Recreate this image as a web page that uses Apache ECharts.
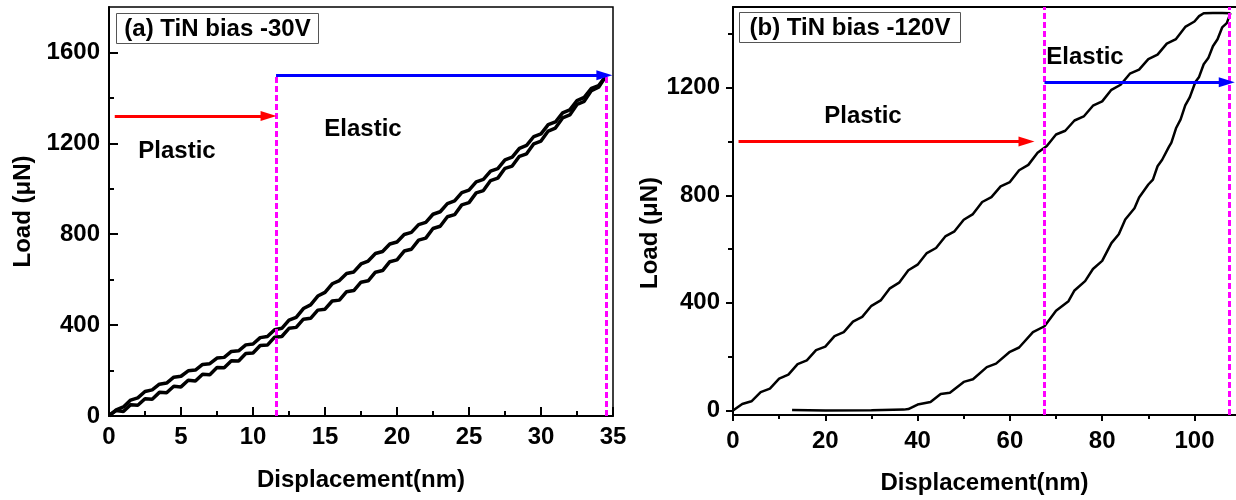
<!DOCTYPE html>
<html><head><meta charset="utf-8">
<script src="https://cdn.jsdelivr.net/npm/echarts@6/dist/echarts.min.js"></script>
<style>html,body{margin:0;padding:0;background:#fff}#c{width:1236px;height:500px}</style>
</head><body><div id="c"></div>
<script>
// ---------- data ----------
const leftLoading = [[0,0],[0.5,27],[1,40],[1.5,70],[2,80],[2.5,108],[3,115],[3.5,140],[4,145],[4.5,171],[5,175],[5.5,199],[6,202],[6.5,227],[7,230],[7.5,255],[8,258],[8.5,284],[9,287],[9.5,313],[10,317],[10.5,345],[11,350],[11.5,380],[12,386],[12.5,422],[13,434],[13.5,473],[14,489],[14.5,528],[15,544],[15.5,582],[16,596],[16.5,627],[17,634],[17.5,669],[18,682],[18.5,715],[19,724],[19.5,757],[20,766],[20.5,799],[21,808],[21.5,842],[22,852],[22.5,888],[23,899],[23.5,935],[24,947],[24.5,983],[25,994],[25.5,1030],[26,1041],[26.5,1078],[27,1089],[27.5,1127],[28,1139],[28.5,1178],[29,1191],[29.5,1230],[30,1242],[30.5,1282],[31,1294],[31.5,1334],[32,1347],[32.5,1388],[33,1402],[33.5,1442],[34,1454],[34.5,1495]];
const leftUnloading = [[34.5,1495],[34,1447],[33.5,1432],[33,1385],[32.5,1371],[32,1325],[31.5,1312],[31,1267],[30.5,1254],[30,1210],[29.5,1198],[29,1154],[28.5,1143],[28,1100],[27.5,1090],[27,1047],[26.5,1036],[26,992],[25.5,982],[25,939],[24.5,929],[24,886],[23.5,877],[23,835],[22.5,825],[22,783],[21.5,774],[21,734],[20.5,726],[20,687],[19.5,679],[19,640],[18.5,633],[18,595],[17.5,589],[17,552],[16.5,547],[16,510],[15.5,506],[15,470],[14.5,466],[14,430],[13.5,426],[13,390],[12.5,386],[12,350],[11.5,347],[11,312],[10.5,310],[10,277],[9.5,275],[9,242],[8.5,243],[8,212],[7.5,213],[7,182],[6.5,184],[6,154],[5.5,157],[5,128],[4.5,131],[4,102],[3.5,104],[3,74],[2.5,76],[2,47],[1.5,50],[1,20],[0.5,24],[0,3]];
const rightLoading = [[0,0],[2,24],[4,34],[6,68],[8,81],[10,118],[12,133],[14,172],[16,186],[18,224],[20,237],[22,276],[24,291],[26,330],[28,348],[30,389],[32,409],[34,454],[36,475],[38,521],[40,542],[42,585],[44,604],[46,647],[48,666],[50,709],[52,730],[54,775],[56,793],[58,833],[60,849],[62,893],[64,913],[66,958],[68,983],[70,1026],[72,1040],[74,1078],[76,1093],[78,1133],[80,1149],[82,1192],[84,1211],[86,1252],[88,1267],[90,1306],[92,1323],[94,1364],[96,1381],[98,1426],[100,1446],[101,1466],[102,1477],[104,1478],[106,1478],[107.8,1477]];
const rightUnloading = [[107.8,1477],[107,1440],[106,1424],[105,1380],[104,1354],[103,1310],[102,1287],[101,1240],[100.2,1221],[99,1165],[98,1134],[97,1082],[96,1049],[95,996],[94.4,978],[93,932],[92,908],[91,858],[90,840],[88,792],[87,752],[85,710],[83.6,655],[82,622],[80,556],[78,526],[76.3,481],[74,446],[72.7,406],[70,371],[67.5,313],[65,291],[62,234],[60,218],[57,174],[55,161],[52,116],[50,106],[47,66],[45,61],[42.8,31],[40,22],[38,5],[37,3],[30,1],[20,0],[12.8,2]];

const leftXTicks = [0,5,10,15,20,25,30,35];
const leftXMinor = [2.5,7.5,12.5,17.5,22.5,27.5,32.5];
const leftYTicks = [0,400,800,1200,1600];
const leftYMinor = [200,600,1000,1400];
const rightXTicks = [0,20,40,60,80,100];
const rightXMinor = [10,30,50,70,90];
const rightYTicks = [0,400,800,1200];
const rightYMinor = [200,600,1000,1400];

const leftPlasticArrow = [[0.4,1320],[11.08,1320]];
const leftElasticArrow = [[11.6,1500],[34.4,1500]];
const leftDividers = [11.6, 34.5];
const leftDividerRange = [0,1500];
const rightPlasticArrow = [[1.2,1000],[63.6,1000]];
const rightElasticArrow = [[67.5,1220],[107.0,1220]];
const rightDividers = [67.5, 107.5];
const rightDividerRange = [-17,1500];

const titles = ['(a) TiN bias -30V', '(b) TiN bias -120V'];
const xName = 'Displacement(nm)';
const yName = 'Load (μN)';

// ---------- options ----------
const FONT = '"Liberation Sans", Arial, sans-serif';
const TXT = {fontFamily: FONT, fontWeight: 'bold', fontSize: 24, color: '#000'};
const plain = v => String(v);

function xAxes(gridIndex, min, max, major, minor, inside, majLen, minLen, nameGap, margin) {
  return [
    {type:'value', gridIndex, min, max, position:'bottom',
     name:xName, nameLocation:'middle', nameGap, nameTextStyle:TXT,
     axisLine:{show:true, onZero:false, lineStyle:{color:'#000', width:2}},
     axisTick:{show:true, inside, length:majLen, customValues:major, lineStyle:{color:'#000', width:2}},
     axisLabel:Object.assign({show:true, customValues:major, margin, formatter:plain}, TXT),
     splitLine:{show:false}},
    {type:'value', gridIndex, min, max, position:'bottom',
     axisLine:{show:false, onZero:false}, axisLabel:{show:false}, splitLine:{show:false},
     axisTick:{show:true, inside, length:minLen, customValues:minor, lineStyle:{color:'#000', width:2}}}
  ];
}
function yAxes(gridIndex, min, max, major, minor, inside, majLen, minLen, nameGap, margin, namePad) {
  return [
    {type:'value', gridIndex, min, max, position:'left',
     name:yName, nameLocation:'middle', nameGap,
     nameTextStyle:Object.assign({padding:namePad}, TXT),
     axisLine:{show:true, onZero:false, lineStyle:{color:'#000', width:2}},
     axisTick:{show:true, inside, length:majLen, customValues:major, lineStyle:{color:'#000', width:2}},
     axisLabel:Object.assign({show:true, customValues:major, margin, formatter:plain}, TXT),
     splitLine:{show:false}},
    {type:'value', gridIndex, min, max, position:'left',
     axisLine:{show:false, onZero:false}, axisLabel:{show:false}, splitLine:{show:false},
     axisTick:{show:true, inside, length:minLen, customValues:minor, lineStyle:{color:'#000', width:2}}}
  ];
}
function curve(xi, data, width) {
  return {type:'line', xAxisIndex:xi, yAxisIndex:xi, data, showSymbol:false, symbol:'none',
    silent:true, animation:false, z:3, lineStyle:{color:'#000', width}};
}
function dividers(xi, xs, range) {
  return {type:'line', xAxisIndex:xi, yAxisIndex:xi, data:[], z:6, silent:true, animation:false,
    markLine:{silent:true, animation:false, symbol:['none','none'], label:{show:false},
      lineStyle:{color:'#ff00ff', width:3, type:[6,3]},
      emphasis:{disabled:true},
      data: xs.map(x => [{coord:[x, range[0]]}, {coord:[x, range[1]]}])}};
}
function arrow(xi, pts, color) {
  return {type:'line', xAxisIndex:xi, yAxisIndex:xi, data:[], z:7, silent:true, animation:false,
    markLine:{silent:true, animation:false, symbol:['none','triangle'], symbolSize:[10,16], label:{show:false},
      lineStyle:{color, width:3, type:'solid'},
      emphasis:{disabled:true},
      data: [[{coord:pts[0]}, {coord:pts[1]}]]}};
}

const option = {
  backgroundColor:'#fff',
  animation:false,
  grid:[
    {left:109, right:623, top:7, bottom:84, show:true, borderColor:'#000', borderWidth:1.5, backgroundColor:'transparent'},
    {left:733, right:0, top:7, bottom:84, show:false}
  ],
  xAxis: [].concat(
    xAxes(0, 0, 35, leftXTicks, leftXMinor, true, 9, 5, 52, 9),
    xAxes(1, 0, 109, rightXTicks, rightXMinor, false, 6, 4, 56, 14),
    [{type:'value', gridIndex:1, min:0, max:109, position:'top',
      axisLine:{show:true, onZero:false, lineStyle:{color:'#000', width:2}},
      axisTick:{show:false}, axisLabel:{show:false}, splitLine:{show:false}}]
  ),
  yAxis: [].concat(
    yAxes(0, 0, 1800, leftYTicks, leftYMinor, true, 9, 5, 74, 9, [0,0,0,0]),
    yAxes(1, -17, 1500, rightYTicks, rightYMinor, false, 7, 5, 70, 13, [0,44,0,0])
  ),
  series:[
    curve(0, leftLoading, 3.5),
    curve(0, leftUnloading, 3.5),
    dividers(0, leftDividers, leftDividerRange),
    arrow(0, leftPlasticArrow, '#ff0000'),
    arrow(0, leftElasticArrow, '#0000ff'),
    curve(2, rightLoading, 2.5),
    curve(2, rightUnloading, 2.5),
    dividers(2, rightDividers, rightDividerRange),
    arrow(2, rightPlasticArrow, '#ff0000'),
    arrow(2, rightElasticArrow, '#0000ff')
  ],
  graphic:[
    {type:'rect', shape:{x:116.5, y:13.5, width:202, height:30}, style:{fill:'#fff', stroke:'#555', lineWidth:1}, z:20, silent:true},
    {type:'text', x:217.5, y:29, style:{text:titles[0], font:'bold 24px ' + FONT, fill:'#000', align:'center', verticalAlign:'middle'}, z:21, silent:true},
    {type:'rect', shape:{x:739.5, y:12.5, width:221, height:30}, style:{fill:'#fff', stroke:'#555', lineWidth:1}, z:20, silent:true},
    {type:'text', x:850, y:28, style:{text:titles[1], font:'bold 24px ' + FONT, fill:'#000', align:'center', verticalAlign:'middle'}, z:21, silent:true},
    {type:'text', x:177, y:151, style:{text:'Plastic', font:'bold 24px ' + FONT, fill:'#000', align:'center', verticalAlign:'middle'}, z:21, silent:true},
    {type:'text', x:363, y:129, style:{text:'Elastic', font:'bold 24px ' + FONT, fill:'#000', align:'center', verticalAlign:'middle'}, z:21, silent:true},
    {type:'text', x:863, y:116, style:{text:'Plastic', font:'bold 24px ' + FONT, fill:'#000', align:'center', verticalAlign:'middle'}, z:21, silent:true},
    {type:'text', x:1085, y:57, style:{text:'Elastic', font:'bold 24px ' + FONT, fill:'#000', align:'center', verticalAlign:'middle'}, z:21, silent:true}
  ]
};
const chart = echarts.init(document.getElementById('c'), null, {renderer:'canvas'});
chart.setOption(option);
</script></body></html>
